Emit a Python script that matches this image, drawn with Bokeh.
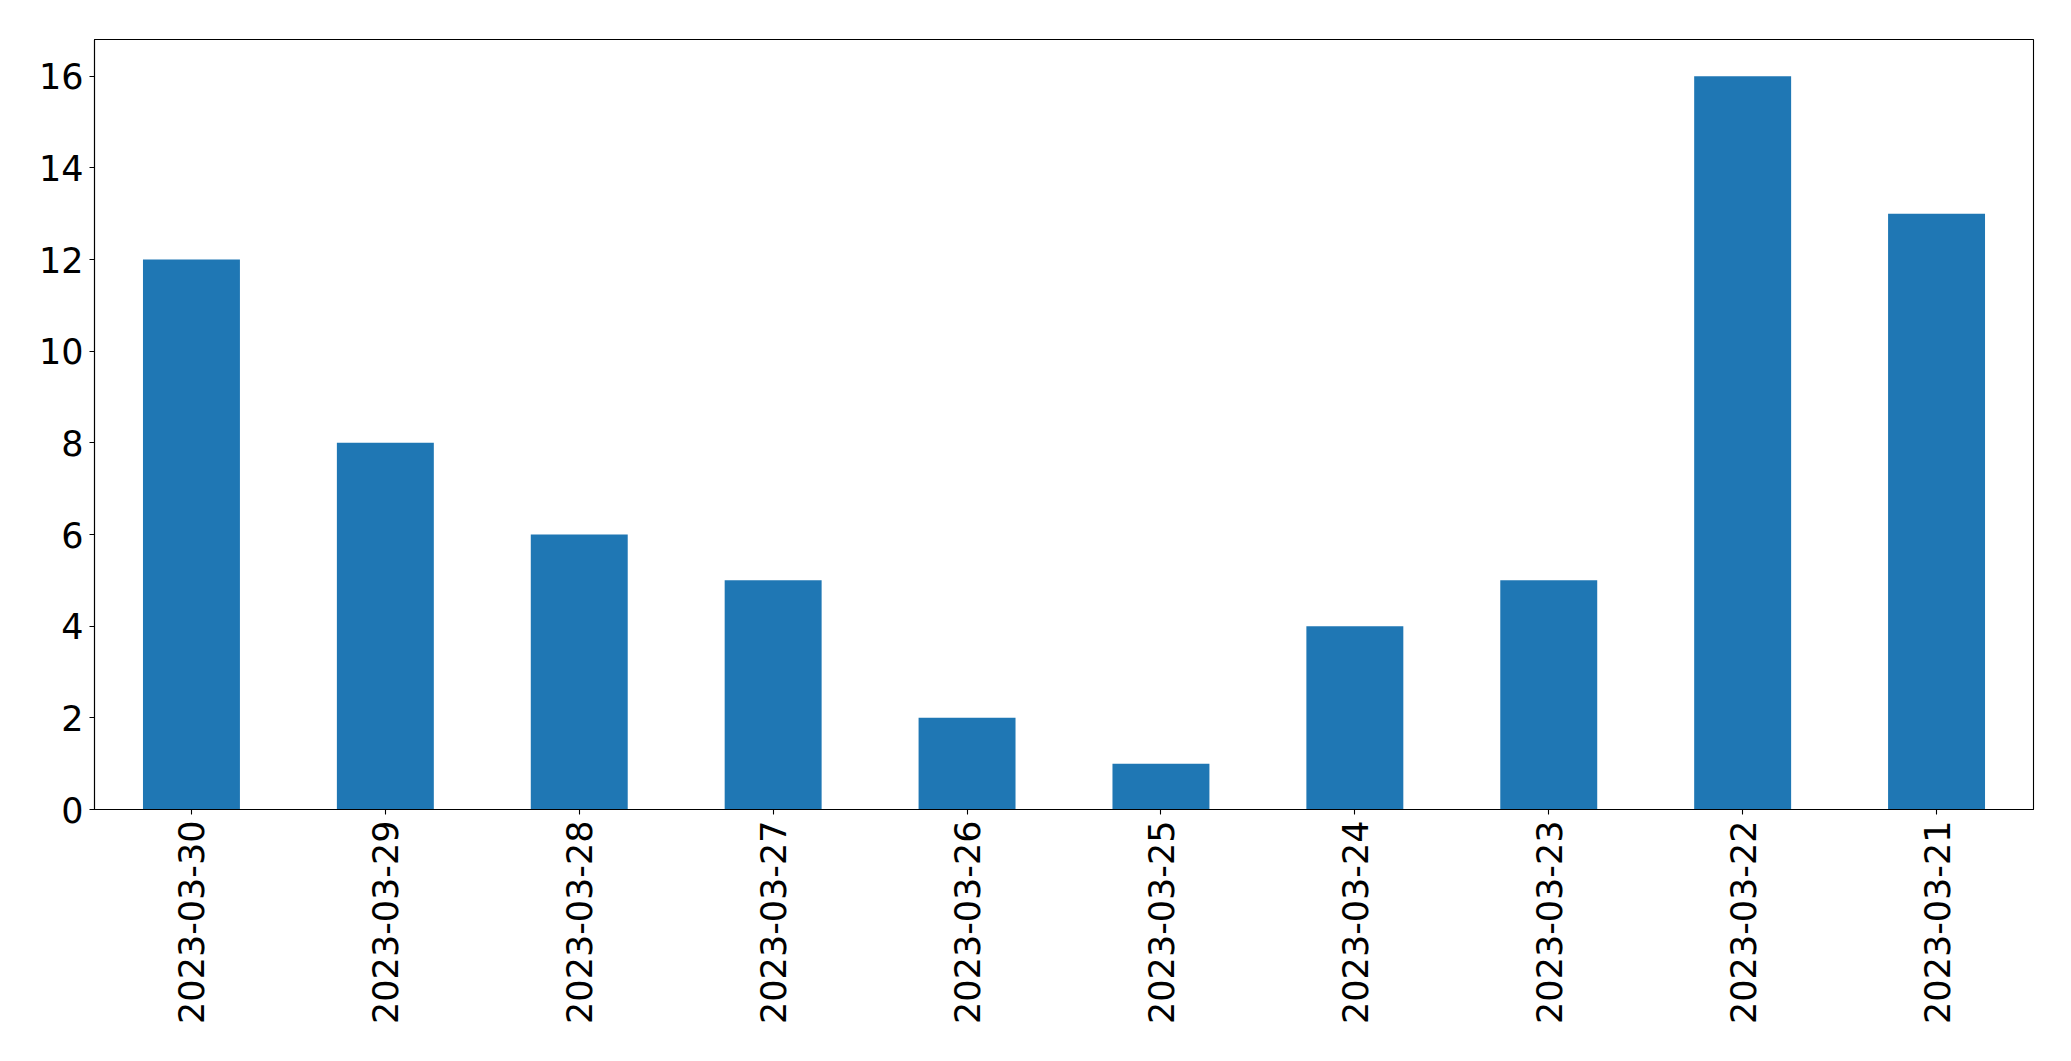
import math
from bokeh.plotting import figure
from bokeh.models import FactorRange, Range1d, FixedTicker, ColumnDataSource
from bokeh.embed import file_html
from bokeh.resources import INLINE

dates = ["2023-03-30", "2023-03-29", "2023-03-28", "2023-03-27", "2023-03-26",
         "2023-03-25", "2023-03-24", "2023-03-23", "2023-03-22", "2023-03-21"]
counts = [12, 8, 6, 5, 2, 1, 4, 5, 16, 13]
y_ticks = [0, 2, 4, 6, 8, 10, 12, 14, 16]

src = ColumnDataSource(dict(date=dates, count=counts))

p = figure(x_range=FactorRange(*dates), y_range=Range1d(0, 16.8),
           width=2063, height=1053, output_backend="svg", toolbar_location=None,
           min_border_left=94, min_border_right=30, min_border_top=39, min_border_bottom=244)

p.vbar(x="date", top="count", width=0.5, source=src, color="#1f77b4", line_color=None)

p.xgrid.visible = False
p.ygrid.visible = False
p.outline_line_color = "black"
p.outline_line_alpha = 1
p.outline_line_width = 1.1

for ax in (p.xaxis[0], p.yaxis[0]):
    ax.axis_line_color = "black"
    ax.axis_line_width = 1.1
    ax.major_tick_line_color = "black"
    ax.major_tick_line_width = 1.1
    ax.major_tick_out = 5
    ax.major_tick_in = 0
    ax.minor_tick_line_color = None
    ax.major_label_text_font = "DejaVu Sans"
    ax.major_label_text_font_size = "35px"
    ax.major_label_text_color = "black"
    ax.major_label_standoff = 6

p.yaxis[0].ticker = FixedTicker(ticks=y_ticks)
p.xaxis[0].major_label_orientation = math.pi / 2

open("out.html", "w").write(file_html(p, INLINE))
